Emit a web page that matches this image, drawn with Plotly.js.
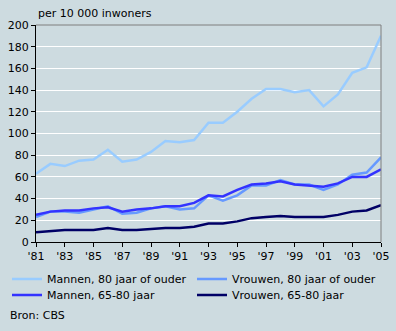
<!DOCTYPE html>
<html><head><meta charset="utf-8">
<script src="https://cdn.plot.ly/plotly-3.0.1.min.js"></script>
<style>html,body{margin:0;padding:0;background:#cddbe0;}#c{width:396px;height:331px;}</style>
</head><body><div id="c"></div>
<script>
const years = [1981,1982,1983,1984,1985,1986,1987,1988,1989,1990,1991,1992,1993,1994,1995,1996,1997,1998,1999,2000,2001,2002,2003,2004,2005];
const tickVals = [1981,1983,1985,1987,1989,1991,1993,1995,1997,1999,2001,2003,2005];
const tickLabels = ["'81","'83","'85","'87","'89","'91","'93","'95","'97","'99","'01","'03","'05"];
const seriesNames = ["Mannen, 80 jaar of ouder","Vrouwen, 80 jaar of ouder","Mannen, 65-80 jaar","Vrouwen, 65-80 jaar"];
const mannen80 = [63,72,70,75,76,85,74,76,83,93,92,94,110,110,120,132,141,141,138,140,125,136,156,161,190];
const vrouwen80 = [23,28,28,27,30,33,26,27,31,33,30,31,43,38,43,52,52,57,53,53,48,53,62,64,78];
const mannen65 = [25,28,29,29,31,32,28,30,31,33,33,36,43,42,48,53,54,56,53,52,51,54,60,60,67];
const vrouwen65 = [9,10,11,11,11,13,11,11,12,13,13,14,17,17,19,22,23,24,23,23,23,25,28,29,34];
const colors = ["#99ccff","#6699ff","#3333ff","#000066"];
const allSeries = [mannen80, vrouwen80, mannen65, vrouwen65];
const legendIds = ['legend','legend2','legend3','legend4'];
const legendPos = [[7,279],[192,279],[7,295],[192,295]];

const traces = allSeries.map((s,i)=>({
  x: years, y: s, type:'scatter', mode:'lines', name: seriesNames[i], legend: legendIds[i],
  line:{color:colors[i], width:2.5}
}));

const layout = {
  width:396, height:331,
  paper_bgcolor:'#cddbe0', plot_bgcolor:'#cddbe0',
  font:{family:'DejaVu Sans, Verdana, sans-serif', size:11, color:'#000'},
  margin:{l:36, r:15, t:25, b:89},
  showlegend:true,
  xaxis:{range:[1981,2005], tickvals:tickVals, ticktext:tickLabels, showgrid:false, zeroline:false,
    showline:true, linecolor:'#000', linewidth:1, ticks:'outside', ticklen:4, tickcolor:'#000', fixedrange:true},
  yaxis:{range:[0,200], dtick:20, showgrid:true, gridcolor:'#ffffff', gridwidth:1, zeroline:false,
    showline:true, linecolor:'#000', linewidth:1, ticks:'outside', ticklen:4, tickcolor:'#000', fixedrange:true},
  shapes:[
    {type:'line', xref:'paper', yref:'paper', x0:0, x1:1, y0:1, y1:1, line:{color:'#7f7f7f', width:1}},
    {type:'line', xref:'paper', yref:'paper', x0:1, x1:1, y0:0, y1:1, line:{color:'#7f7f7f', width:1}}
  ],
  annotations:[
    {text:'per 10 000 inwoners', xref:'paper', yref:'paper', x:0, y:1, xanchor:'left', yanchor:'bottom', yshift:3, showarrow:false, font:{size:11}},
    {text:'Bron: CBS', xref:'paper', yref:'paper', x:-0.081, y:-0.341, xanchor:'left', yanchor:'middle', showarrow:false, font:{size:11}}
  ]
};
legendIds.forEach((id,i)=>{
  layout[id] = {orientation:'h', xref:'container', yref:'container', x:legendPos[i][0]/396, y:1-legendPos[i][1]/331,
    xanchor:'left', yanchor:'middle', bgcolor:'rgba(0,0,0,0)', font:{size:11}, itemwidth:30};
});
Plotly.newPlot('c', traces, layout, {displayModeBar:false, staticPlot:true});
</script></body></html>
